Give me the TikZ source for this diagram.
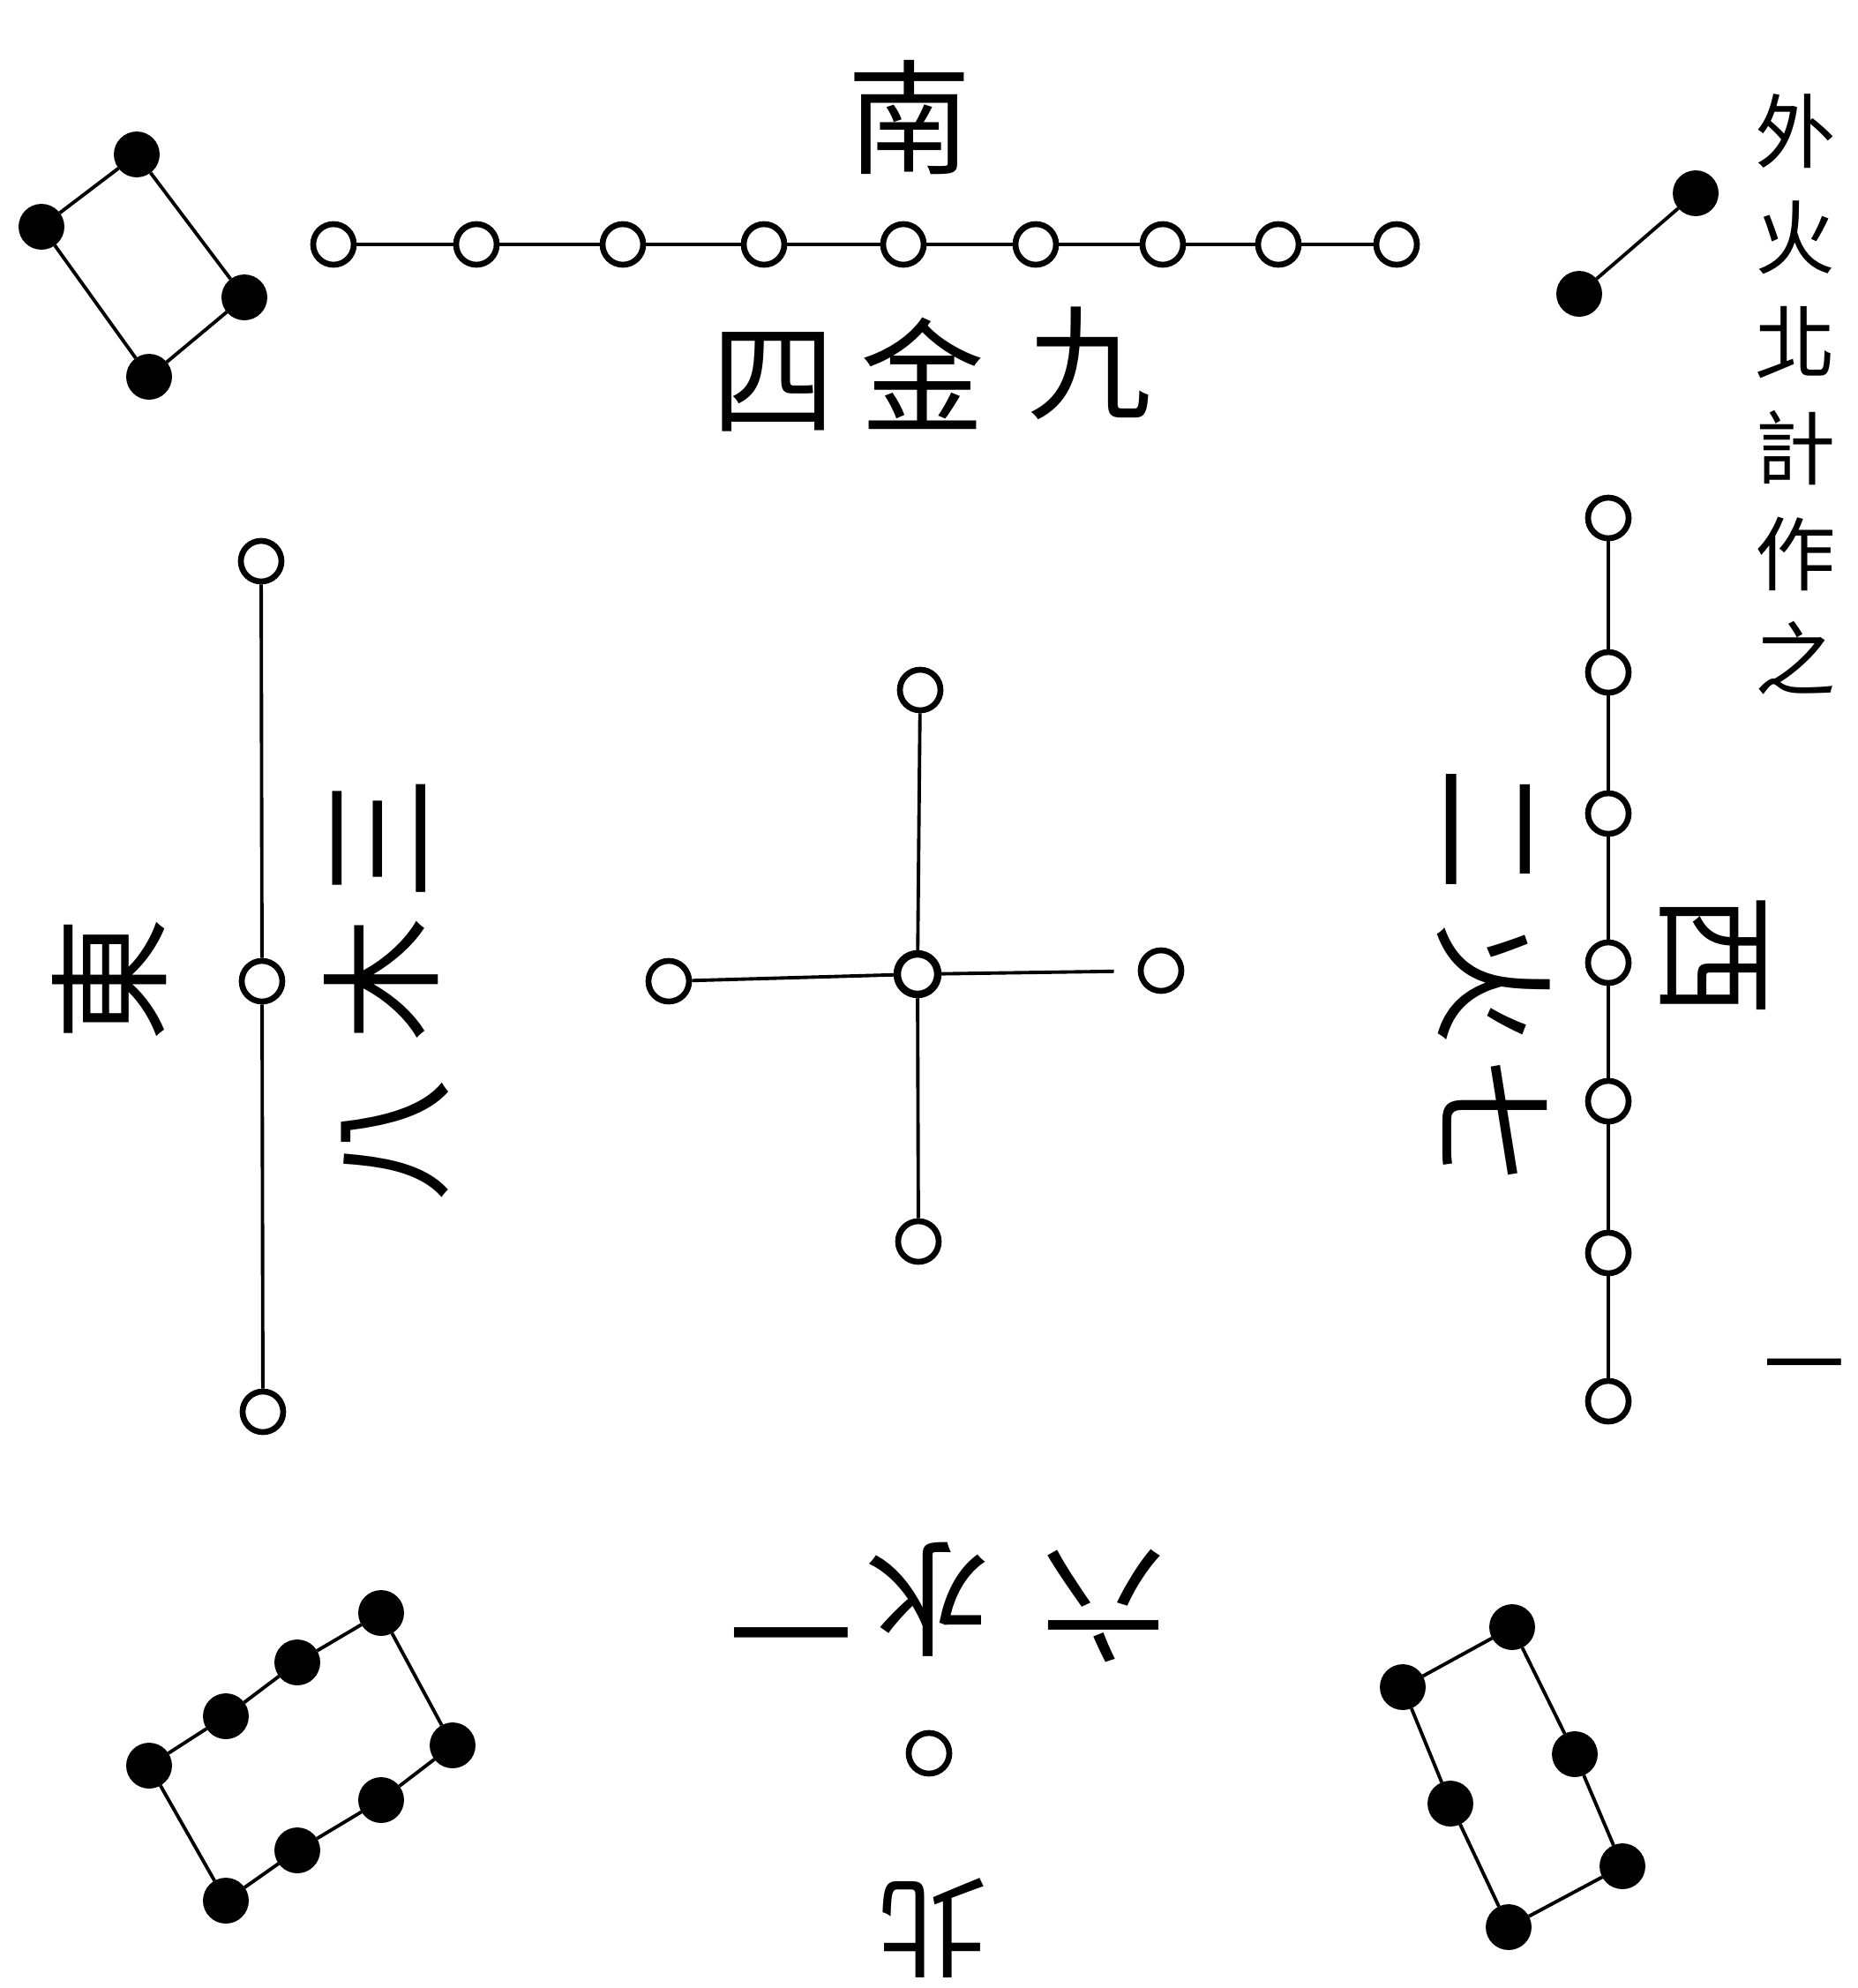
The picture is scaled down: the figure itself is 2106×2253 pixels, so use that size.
\documentclass[tikz,border=0pt]{standalone}
\usepackage{fontspec}
\newfontfamily\cjk{Noto Sans CJK TC}
\begin{document}
\begin{tikzpicture}[x=0.01cm, y=-0.01cm, line width=1.1pt,
  yang/.style={circle, draw, line width=1.9pt, fill=white, minimum size=4.6mm, inner sep=0pt},
  yin/.style={circle, draw, fill=black, minimum size=4.8mm, inner sep=0pt},
  glyph/.style={font=\cjk\fontsize{40}{40}\selectfont, inner sep=0pt},
  note/.style={font=\cjk\fontsize{26}{34}\selectfont, inner sep=0pt, align=center}]
        \fill[white] (0,0) rectangle (2106,2253);
        \useasboundingbox (0,0) rectangle (2106,2253);

        \node[glyph] (nan) at (1031,133) {南};
        \node[yang] (s1) at (378,277) {};
        \node[yang] (s2) at (540,277) {};
        \node[yang] (s3) at (706,277) {};
        \node[yang] (s4) at (866,277) {};
        \node[yang] (s5) at (1024,277) {};
        \node[yang] (s6) at (1174,277) {};
        \node[yang] (s7) at (1318,277) {};
        \node[yang] (s8) at (1449,277) {};
        \node[yang] (s9) at (1583,277) {};
        \draw (s1)--(s2)--(s3)--(s4)--(s5)--(s6)--(s7)--(s8)--(s9);
        \node[glyph] (si) at (877,433) {四};
        \node[glyph] (jin) at (1046,423) {金};
        \node[glyph] (jiu) at (1235,412) {九};

        \node[yin] (a1) at (155,175) {};
        \node[yin] (a2) at (47,257) {};
        \node[yin] (a3) at (277,337) {};
        \node[yin] (a4) at (169,427) {};
        \draw (a1)--(a2)--(a4)--(a3)--(a1);

        \node[yin] (b1) at (1922,219) {};
        \node[yin] (b2) at (1790,333) {};
        \draw (b1)--(b2);

        \node[note, anchor=north] (col) at (2035,105) {外\\火\\北\\計\\作\\之};
        \node[note] (yi) at (2045,1560) {一};

        \node[yang] (e1) at (296,636) {};
        \node[yang] (e2) at (297,1112) {};
        \node[yang] (e3) at (298,1600) {};
        \draw (e1)--(e2)--(e3);
        \node[glyph, rotate=90] (dong) at (124,1110) {東};
        \node[glyph, rotate=90] (san) at (430,950) {三};
        \node[glyph, rotate=90] (mu) at (432,1110) {木};
        \node[glyph, rotate=90] (ba) at (448,1292) {八};

        \node[yang] (w1) at (1823,587) {};
        \node[yang] (w2) at (1823,762) {};
        \node[yang] (w3) at (1823,922) {};
        \node[yang] (w4) at (1823,1091) {};
        \node[yang] (w5) at (1823,1248) {};
        \node[yang] (w6) at (1823,1420) {};
        \node[yang] (w7) at (1823,1588) {};
        \draw (w1)--(w2)--(w3)--(w4)--(w5)--(w6)--(w7);
        \node[glyph, rotate=-90] (er) at (1686,940) {二};
        \node[glyph, rotate=-90] (huo) at (1693,1115) {火};
        \node[glyph, rotate=-90] (qi) at (1695,1271) {七};
        \node[glyph, rotate=-90] (xi) at (1942,1083) {西};

        \node[yang, line width=2.4pt] (c0) at (1040,1104) {};
        \node[yang] (cn) at (1043,782) {};
        \node[yang] (cs) at (1041,1407) {};
        \node[yang] (cw) at (758,1112) {};
        \node[yang] (ce) at (1316,1100) {};
        \draw (cn)--(c0)--(cs);
        \draw (cw)--(c0);
        \draw[shorten >=2.7mm] (c0)--(ce);

        \node[glyph, rotate=180] (yi1) at (897,1826) {一};
        \node[glyph, rotate=180] (shui) at (1052,1813) {水};
        \node[glyph, rotate=180] (liu) at (1251,1820) {六};
        \node[yang] (n1) at (1053,1987) {};
        \node[glyph, rotate=180, font=\cjk\fontsize{36}{36}\selectfont] (bei) at (1056,2185) {北};

        \node[yin] (d1) at (432,1828) {};
        \node[yin] (d2) at (337,1884) {};
        \node[yin] (d3) at (256,1945) {};
        \node[yin] (d4) at (169,2001) {};
        \node[yin] (d5) at (513,1978) {};
        \node[yin] (d6) at (432,2040) {};
        \node[yin] (d7) at (337,2097) {};
        \node[yin] (d8) at (256,2154) {};
        \draw (d1)--(d2)--(d3)--(d4)--(d8)--(d7)--(d6)--(d5)--(d1);

        \node[yin] (f1) at (1714,1844) {};
        \node[yin] (f2) at (1590,1912) {};
        \node[yin] (f3) at (1785,1988) {};
        \node[yin] (f4) at (1644,2044) {};
        \node[yin] (f5) at (1839,2115) {};
        \node[yin] (f6) at (1710,2184) {};
        \draw (f1)--(f2)--(f4)--(f6)--(f5)--(f3)--(f1);
\end{tikzpicture}
\end{document}
